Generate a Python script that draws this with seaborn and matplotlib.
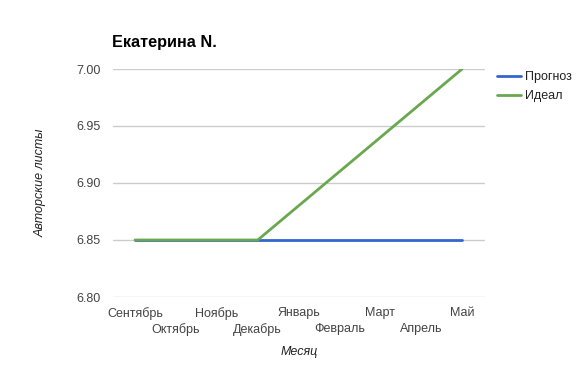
import matplotlib
matplotlib.use("Agg")
import matplotlib.pyplot as plt
import seaborn as sns
import pandas as pd

months = ["Сентябрь", "Октябрь", "Ноябрь", "Декабрь", "Январь", "Февраль", "Март", "Апрель", "Май"]
forecast = [6.85, 6.85, 6.85, 6.85, 6.85, 6.85, 6.85, 6.85, 6.85]
ideal = [6.85, 6.85, 6.85, 6.85, 6.88, 6.91, 6.94, 6.97, 7.00]
yticks = [6.80, 6.85, 6.90, 6.95, 7.00]

sns.set_theme(style="white")
plt.rcParams['font.family'] = ['Liberation Sans', 'DejaVu Sans']

df = pd.DataFrame({
    "idx": list(range(len(months))) * 2,
    "value": forecast + ideal,
    "series": ["Прогноз"] * len(months) + ["Идеал"] * len(months),
})

fig = plt.figure(figsize=(5.79, 3.65), dpi=100)
ax = fig.add_axes([113/579, 1-297/365, (485-113)/579, (297-69)/365])

sns.lineplot(data=df, x="idx", y="value", hue="series",
             palette={"Прогноз": "#3366cc", "Идеал": "#6aa84f"},
             linewidth=2, ax=ax, legend=True)

ax.set_xlim(-0.54, 8.56)
ax.set_ylim(6.80, 7.00)
ax.set_yticks(yticks)
ax.set_yticklabels([f"{v:.2f}" for v in yticks])
major = list(range(0, len(months), 2))
minor = list(range(1, len(months), 2))
ax.set_xticks(major)
ax.set_xticklabels([months[i] for i in major])
ax.set_xticks(minor, minor=True)
ax.set_xticklabels([months[i] for i in minor], minor=True)
ax.tick_params(axis="both", which="both", length=0, labelsize=9, labelcolor="#444444")
ax.tick_params(axis="y", pad=9)
ax.tick_params(axis="x", which="major", pad=7)
ax.tick_params(axis="x", which="minor", pad=19)
for s in ax.spines.values():
    s.set_visible(False)
ax.grid(axis="y", which="major", color="#cccccc", linewidth=1)
ax.grid(axis="x", which="both", visible=False)
ax.set_axisbelow(True)

ax.set_xlabel("Месяц", fontsize=9, style="italic", color="#222222", labelpad=7)
ax.set_ylabel("Авторские листы", fontsize=9, style="italic", color="#222222", labelpad=21)
fig.text(112/579, 1-43/365, "Екатерина N.", fontsize=11.7, fontweight="bold", color="#000000", va="center")

leg = ax.legend(loc="upper left", bbox_to_anchor=(1 + 12/372, 1 - 2/228), frameon=False,
                fontsize=9, handlelength=1.9, handletextpad=0.35, labelspacing=0.6,
                borderaxespad=0, borderpad=0)
for t in leg.get_texts():
    t.set_color("#222222")

fig.savefig("out.png", dpi=100)
